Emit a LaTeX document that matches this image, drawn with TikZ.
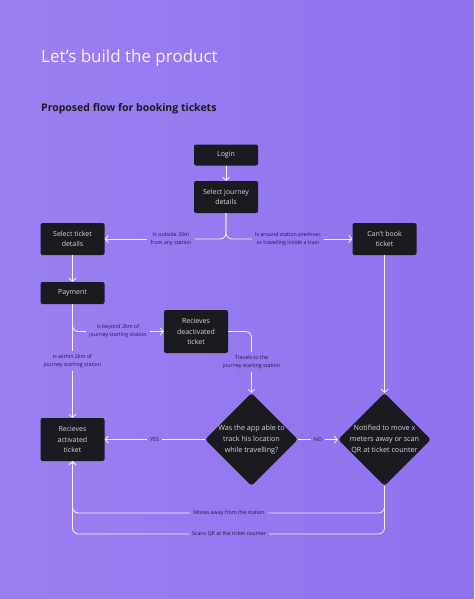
\documentclass[tikz,border=0pt]{standalone}
\usepackage{fontspec}
\setmainfont{Open Sans}
\usetikzlibrary{arrows.meta,positioning,shapes.geometric}
\definecolor{lilaclight}{RGB}{155,128,242}
\definecolor{lilacdeep}{RGB}{143,113,237}
\definecolor{night}{RGB}{27,26,33}
\definecolor{navy}{RGB}{32,22,72}
\definecolor{chalk}{RGB}{246,243,255}
\tikzset{
  >={Straight Barb[length=3pt,width=7pt]},
  card/.style={fill=night,text=chalk!88!black,rounded corners=2pt,
    minimum width=64pt,minimum height=#1,align=center,
    font=\fontsize{7}{10.5}\selectfont,inner sep=2pt},
  card/.default=32pt,
  choice/.style={diamond,fill=night,text=chalk!88!black,rounded corners=3pt,
    minimum size=93pt,aspect=1,inner sep=-4pt,align=center,
    font=\fontsize{7.2}{11}\selectfont},
  wire/.style={draw=chalk,line width=0.8pt,rounded corners=6pt},
  flow/.style={wire,->},
  tag/.style={text=navy,inner sep=3pt,align=center,
    font=\fontsize{5.3}{8}\selectfont},
}
\begin{document}
\begin{tikzpicture}[x=1pt,y=-1pt]
    \shade[left color=lilaclight,right color=lilacdeep] (0,0) rectangle (474,599);
    \useasboundingbox (0,0) rectangle (474,599);
    \node[anchor=base west,inner sep=0pt,text=chalk,font=\fontsize{17}{20}\selectfont] (title) at (41,63) {Let’s build the product};
    \node[anchor=base west,inner sep=0pt,text=night,font=\fontsize{10.5}{12}\selectfont\bfseries] (sub) at (41,112) {Proposed flow for booking tickets};
    % boxes
    \node[card=21pt] (login) at (226,155) {Login};
    \node[card] (journey) at (226,197) {Select journey\\details};
    \node[card] (ticket) at (72.5,239) {Select ticket\\details};
    \node[card] (cant) at (384.5,239) {Can’t book\\ticket};
    \node[card=22pt] (pay) at (72.5,293) {Payment};
    \node[card=43pt] (deact) at (196,331.5) {Recieves\\deactivated\\ticket};
    \node[card=43pt] (act) at (72.5,439.5) {Recieves\\activated\\ticket};
    \node[choice] (track) at (251.5,439.5) {Was the app able to\\track his location\\while travelling?};
    \node[choice] (notify) at (384.5,439.5) {Notified to move x\\meters away or scan\\QR at ticket counter};
    % labels
    \node[tag] (outside) at (171,239) {Is outside 20m\\from any station};
    \node[tag] (around) at (288,239) {Is around station premises\\or travelling inside a train};
    \node[tag] (within) at (72.5,361) {Is within 2km of\\journey starting station};
    \node[tag] (beyond) at (118,331.5) {Is beyond 2km of\\journey starting station};
    \node[tag] (travels) at (251.5,362) {Travels to the\\journey starting station};
    \node[tag] (yes) at (154.5,439.5) {YES};
    \node[tag] (no) at (318,439.5) {NO};
    \node[tag] (away) at (229,513) {Moves away from the station};
    \node[tag] (scan) at (229,534) {Scans QR at the ticket counter};
    % connectors
    \draw[flow] (login) -- (journey);
    \draw[wire] (journey) |- (outside);
    \draw[flow] (outside) -- (ticket);
    \draw[wire] (journey) |- (around);
    \draw[flow] (around) -- (cant);
    \draw[flow] (ticket) -- (pay);
    \draw[wire] (pay) -- (within);
    \draw[flow] (within) -- (act);
    \draw[wire] (pay) |- (beyond);
    \draw[flow] (beyond) -- (deact);
    \draw[wire] (deact) -| (travels);
    \draw[flow] (travels) -- (track);
    \draw[flow] (cant) -- (notify);
    \draw[wire] (track) -- (yes);
    \draw[flow] (yes) -- (act);
    \draw[wire] (track) -- (no);
    \draw[flow] (no) -- (notify);
    \draw[wire] (notify) |- (away);
    \draw[flow] (away) -| (act);
    \draw[wire] (notify) |- (scan);
    \draw[flow] (scan) -| (act);
\end{tikzpicture}
\end{document}
